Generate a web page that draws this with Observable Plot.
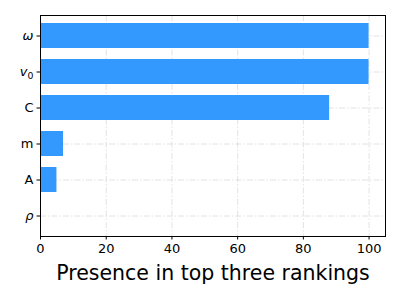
<!DOCTYPE html>
<html>
<head>
<meta charset="utf-8">
<script src="https://cdn.jsdelivr.net/npm/d3@7"></script>
<script src="https://cdn.jsdelivr.net/npm/@observablehq/plot@0.6"></script>
<style>
  html, body { margin: 0; padding: 0; background: #fff; }
</style>
</head>
<body>
<div id="chart"></div>
<script>
const categories = ["ω", "v₀", "C", "m", "A", "ρ"];
const values = [100, 100, 88, 7, 5, 0];
const xTicks = [0, 20, 40, 60, 80, 100];
const xLabel = "Presence in top three rankings";

const data = categories.map((c, i) => ({cat: c, value: values[i]}));

const gridStyle = {stroke: "#d0d0d0", strokeOpacity: 0.6, strokeDasharray: "6,2,1.5,2"};

const chart = Plot.plot({
  width: 400,
  height: 300,
  marginLeft: 40,
  marginRight: 15,
  marginTop: 15,
  marginBottom: 64,
  style: {fontFamily: "DejaVu Sans", fontSize: "13px", color: "black", background: "white"},
  x: {domain: [0, 105], ticks: xTicks},
  y: {type: "band", domain: categories, paddingInner: 0.3, paddingOuter: 0.15},
  marks: [
    Plot.gridX(xTicks, gridStyle),
    Plot.gridY(categories, gridStyle),
    Plot.barX(data, {x: "value", y: "cat", fill: "#3399ff"}),
    Plot.frame({stroke: "black", strokeWidth: 1}),
    Plot.axisX({ticks: xTicks, tickSize: 3.5, tickPadding: 3.5, label: null}),
    Plot.axisY({tickSize: 3.5, tickPadding: 3.5, label: null}),
    Plot.text([xLabel], {frameAnchor: "bottom", lineAnchor: "bottom", dy: 43, fontSize: 20.5, fill: "black"})
  ]
});

document.getElementById("chart").appendChild(chart);

// tick label size and italic math-style symbols on the y axis
d3.select(chart).selectAll("text").each(function() {
  const t = d3.select(this);
  const s = t.text();
  if (s === xLabel) return;
  t.style("font-size", "13px");
  if (s === "ω" || s === "ρ") {
    t.style("font-style", "italic");
  } else if (s === "v₀") {
    t.text(null);
    t.append("tspan").style("font-style", "italic").text("v");
    t.append("tspan").attr("font-size", "0.72em").attr("dy", "0.3em").text("0");
  }
});
</script>
</body>
</html>
